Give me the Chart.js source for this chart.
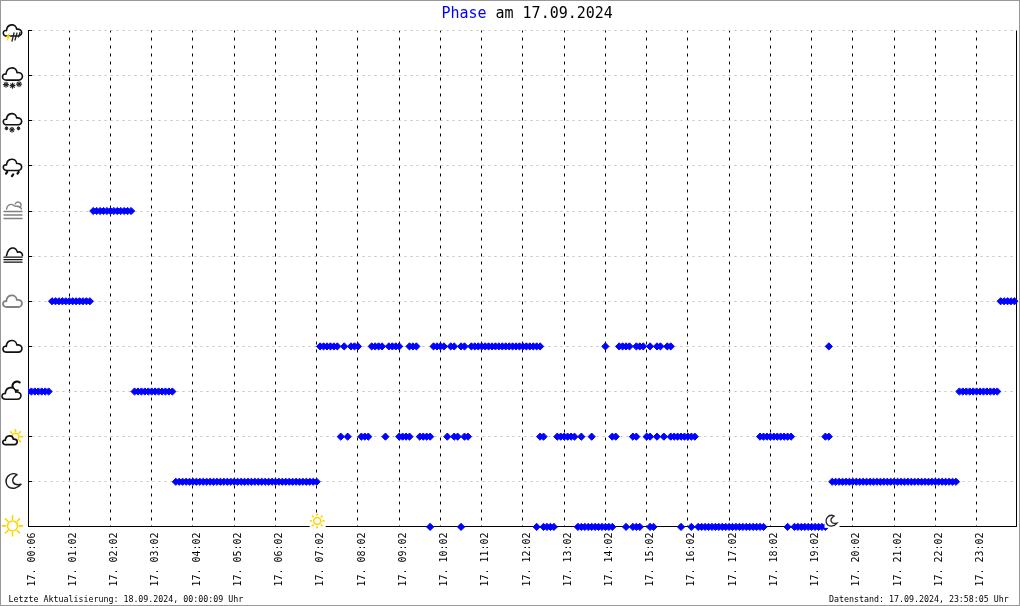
<!DOCTYPE html>
<html lang="de">
<head>
<meta charset="utf-8">
<title>Phase am 17.09.2024</title>
<script src="https://cdn.jsdelivr.net/npm/chart.js@4/dist/chart.umd.min.js"></script>
<style>
  html, body { margin: 0; padding: 0; background: #fff; }
  canvas { display: block; }
</style>
</head>
<body>
<canvas id="phaseChart" width="1020" height="606"></canvas>
<script>
// x = reading number of the day (one reading about every 5 minutes), y = phase row
const tickLabels = ['17. 00:06', '17. 01:02', '17. 02:02', '17. 03:02', '17. 04:02', '17. 05:02',
  '17. 06:02', '17. 07:02', '17. 08:02', '17. 09:02', '17. 10:02', '17. 11:02', '17. 12:02',
  '17. 13:02', '17. 14:02', '17. 15:02', '17. 16:02', '17. 17:02', '17. 18:02', '17. 19:02',
  '17. 20:02', '17. 21:02', '17. 22:02', '17. 23:02'];
const tickReadings = [0, 12, 24, 36, 48, 60, 72, 84, 96, 108, 120, 132, 144, 156, 168, 180,
  192, 204, 216, 228, 240, 252, 264, 276];

const phaseIcons = ['sun', 'moon', 'cloudSun', 'cloudMoon', 'cloud', 'greyCloud', 'fog', 'mist',
  'rain', 'sleet', 'snow', 'storm'];

const clearReadings = [117, 126, 148, 150, 151, 152, 153, 160, 161, 162, 163, 164, 165, 166, 167,
  168, 169, 170, 174, 176, 177, 178, 181, 182, 190, 193, 195, 196, 197, 198, 199, 200, 201, 202,
  203, 204, 205, 206, 207, 208, 209, 210, 211, 212, 213, 214, 221, 223, 224, 225, 226, 227, 228,
  229, 230, 231, 232];
const moonReadings = [43, 44, 45, 46, 47, 48, 49, 50, 51, 52, 53, 54, 55, 56, 57, 58, 59, 60, 61,
  62, 63, 64, 65, 66, 67, 68, 69, 70, 71, 72, 73, 74, 75, 76, 77, 78, 79, 80, 81, 82, 83, 84,
  234, 235, 236, 237, 238, 239, 240, 241, 242, 243, 244, 245, 246, 247, 248, 249, 250, 251, 252,
  253, 254, 255, 256, 257, 258, 259, 260, 261, 262, 263, 264, 265, 266, 267, 268, 269, 270];
const cloudSunReadings = [91, 93, 97, 98, 99, 104, 108, 109, 110, 111, 114, 115, 116, 117, 122,
  124, 125, 127, 128, 149, 150, 154, 155, 156, 157, 158, 159, 161, 164, 170, 171, 176, 177, 180,
  181, 183, 185, 187, 188, 189, 190, 191, 192, 193, 194, 213, 214, 215, 216, 217, 218, 219, 220,
  221, 222, 232, 233];
const cloudMoonReadings = [0, 1, 2, 3, 4, 5, 6, 31, 32, 33, 34, 35, 36, 37, 38, 39, 40, 41, 42,
  271, 272, 273, 274, 275, 276, 277, 278, 279, 280, 281, 282];
const cloudReadings = [85, 86, 87, 88, 89, 90, 92, 94, 95, 96, 100, 101, 102, 103, 105, 106, 107,
  108, 111, 112, 113, 118, 119, 120, 121, 123, 124, 126, 127, 129, 130, 131, 132, 133, 134, 135,
  136, 137, 138, 139, 140, 141, 142, 143, 144, 145, 146, 147, 148, 149, 168, 172, 173, 174, 175,
  177, 178, 179, 181, 183, 184, 186, 187, 233];
const greyCloudReadings = [7, 8, 9, 10, 11, 12, 13, 14, 15, 16, 17, 18, 283, 284, 285, 286, 287];
const mistReadings = [19, 20, 21, 22, 23, 24, 25, 26, 27, 28, 29, 30];

const phaseSeries = [
  [0, clearReadings], [1, moonReadings], [2, cloudSunReadings], [3, cloudMoonReadings],
  [4, cloudReadings], [5, greyCloudReadings], [7, mistReadings],
];
const sunriseReading = 84;
const sunsetReading = 233.5;

const BLUE = '#0000ff';
const YELLOW = '#ffd400';
const GREY = '#808080';

function cloudPath(c, x, y, k) {
  c.beginPath();
  c.moveTo(x - 6 * k, y + 5.5 * k);
  c.bezierCurveTo(x - 11.5 * k, y + 5.5 * k, x - 11 * k, y - 1.5 * k, x - 6.5 * k, y - 0.5 * k);
  c.bezierCurveTo(x - 6 * k, y - 8.5 * k, x + 4 * k, y - 8.5 * k, x + 4.5 * k, y - 2 * k);
  c.bezierCurveTo(x + 11.5 * k, y - 3 * k, x + 11.5 * k, y + 5.5 * k, x + 6 * k, y + 5.5 * k);
  c.closePath();
}

function sunIcon(c, x, y, r, rays) {
  c.strokeStyle = YELLOW;
  c.lineWidth = 1.5;
  c.beginPath();
  c.arc(x, y, r, 0, Math.PI * 2);
  c.stroke();
  c.lineWidth = 1.6;
  for (let a = 0; a < 8; a++) {
    const dx = Math.cos(a * Math.PI / 4), dy = Math.sin(a * Math.PI / 4);
    c.beginPath();
    c.moveTo(x + dx * (r + 1.6), y + dy * (r + 1.6));
    c.lineTo(x + dx * rays, y + dy * rays);
    c.stroke();
  }
}

function moonIcon(c, x, y, r, width) {
  c.strokeStyle = '#222';
  c.lineWidth = width;
  c.beginPath();
  c.arc(x, y, r, 0.72 * Math.PI, 1.72 * Math.PI - 0.2);
  c.bezierCurveTo(x - r * 0.55, y - r * 0.2, x - r * 0.1, y + r * 0.65, x + r, y + r * 0.4);
  c.bezierCurveTo(x + r * 0.5, y + r * 1.0, x - r * 0.2, y + r * 1.05, x - r * 0.62, y + r * 0.78);
  c.stroke();
}

function hLines(c, x0, x1, ys, color, width) {
  c.strokeStyle = color;
  c.lineWidth = width;
  ys.forEach(v => {
    c.beginPath();
    c.moveTo(x0, v);
    c.lineTo(x1, v);
    c.stroke();
  });
}

function star(c, x, y, r) {
  c.strokeStyle = '#222';
  c.lineWidth = 1.1;
  for (let a = 0; a < 4; a++) {
    const dx = Math.cos(a * Math.PI / 4) * r, dy = Math.sin(a * Math.PI / 4) * r;
    c.beginPath();
    c.moveTo(x - dx, y - dy);
    c.lineTo(x + dx, y + dy);
    c.stroke();
  }
}

function drawIcon(c, name, x, y) {
  c.save();
  c.lineJoin = 'round';
  c.lineCap = 'round';
  c.strokeStyle = '#111';
  c.lineWidth = 1.6;
  switch (name) {
    case 'sun':
      sunIcon(c, x, y - 1, 5, 10);
      break;
    case 'moon':
      moonIcon(c, x + 1, y - 0.5, 7.5, 1.5);
      break;
    case 'cloudSun':
      sunIcon(c, x + 3.5, y, 3.5, 7);
      c.fillStyle = '#fff';
      cloudPath(c, x - 2, y + 4, 0.72);
      c.fill();
      c.strokeStyle = '#111';
      c.lineWidth = 1.7;
      c.stroke();
      break;
    case 'cloudMoon':
      c.lineWidth = 2.2;
      c.beginPath();
      c.arc(x + 4.5, y - 5.5, 4.5, 0.45 * Math.PI, 1.7 * Math.PI);
      c.stroke();
      c.lineWidth = 1.6;
      c.fillStyle = '#fff';
      cloudPath(c, x - 1, y + 2.5, 0.95);
      c.fill();
      c.stroke();
      break;
    case 'cloud':
      cloudPath(c, x, y + 0.5, 0.95);
      c.stroke();
      break;
    case 'greyCloud':
      c.strokeStyle = GREY;
      c.lineWidth = 1.8;
      cloudPath(c, x, y + 0.5, 0.95);
      c.stroke();
      break;
    case 'fog':
      c.beginPath();
      c.moveTo(x - 6, y - 0.5);
      c.bezierCurveTo(x - 4, y - 10, x + 3, y - 10, x + 5, y - 4);
      c.bezierCurveTo(x + 8, y - 5, x + 10, y - 3, x + 10, y - 0.5);
      c.stroke();
      hLines(c, x - 8.5, x + 9.5, [y + 1, y + 3.5, y + 6], '#111', 1.4);
      break;
    case 'mist':
      c.strokeStyle = GREY;
      c.lineWidth = 1.3;
      c.beginPath();
      c.moveTo(x - 6, y - 2);
      c.bezierCurveTo(x - 5, y - 7, x - 1, y - 8, x + 2, y - 5);
      c.bezierCurveTo(x + 4, y - 5, x + 8, y - 5, x + 9, y - 2);
      c.stroke();
      c.beginPath();
      c.arc(x + 5.5, y - 6, 3, 1.1 * Math.PI, 0.3 * Math.PI);
      c.stroke();
      hLines(c, x - 8.5, x + 9.5, [y + 0.5, y + 4, y + 7.5], GREY, 1.4);
      break;
    case 'rain':
      cloudPath(c, x, y - 0.5, 0.92);
      c.stroke();
      c.strokeStyle = '#111';
      c.lineWidth = 2.2;
      [[-6, 7], [0, 9.5], [5.5, 7]].forEach(d => {
        c.beginPath();
        c.moveTo(x + d[0] + 0.7, y + d[1] - 1);
        c.lineTo(x + d[0] - 0.5, y + d[1] + 0.8);
        c.stroke();
      });
      break;
    case 'sleet':
      cloudPath(c, x, y - 1, 0.92);
      c.stroke();
      star(c, x - 6, y + 7.5, 1.4);
      star(c, x - 0.5, y + 9, 2.4);
      star(c, x + 6, y + 7.5, 1.4);
      break;
    case 'snow':
      cloudPath(c, x, y - 1, 1);
      c.stroke();
      star(c, x - 6.5, y + 9, 2.5);
      star(c, x, y + 10, 2.5);
      star(c, x + 6.5, y + 8.5, 2.5);
      break;
    case 'storm':
      cloudPath(c, x, y + 0.5, 0.92);
      c.stroke();
      c.fillStyle = YELLOW;
      c.beginPath();
      c.moveTo(x - 2.5, y + 2);
      c.lineTo(x - 7, y + 7);
      c.lineTo(x - 4.8, y + 7);
      c.lineTo(x - 6.5, y + 11.5);
      c.lineTo(x - 1.8, y + 5.2);
      c.lineTo(x - 4, y + 5.2);
      c.closePath();
      c.fill();
      c.strokeStyle = '#222';
      c.lineWidth = 1.3;
      [[1.5, 2.5, -0.5, 10.5], [4.5, 2.5, 2.5, 9.5], [7.5, 2, 6, 6.5]].forEach(l => {
        c.beginPath();
        c.moveTo(x + l[0], y + l[1]);
        c.lineTo(x + l[2], y + l[3]);
        c.stroke();
      });
      break;
  }
  c.restore();
}

const framePlugin = {
  id: 'frame',
  beforeDatasetsDraw(chart) {
    const c = chart.ctx, a = chart.chartArea, yScale = chart.scales.y;
    c.save();
    c.strokeStyle = '#000';
    c.lineWidth = 1;
    // right axis line and the small inward ticks of the phase axis
    c.beginPath();
    c.moveTo(a.right + 1.5, a.top);
    c.lineTo(a.right + 1.5, a.bottom);
    phaseIcons.forEach((name, i) => {
      const y = Math.round(yScale.getPixelForValue(i) - 0.5) + 0.5;
      c.moveTo(a.left, y);
      c.lineTo(a.left + 4, y);
    });
    c.stroke();
    c.restore();
  },
  afterDatasetsDraw(chart) {
    const c = chart.ctx, a = chart.chartArea, x = chart.scales.x, y = chart.scales.y;
    c.save();
    phaseIcons.forEach((name, i) => drawIcon(c, name, name === 'cloudSun' ? 12 : 12.5, y.getPixelForValue(i)));

    // sunrise / sunset markers have a white box behind them
    const riseX = x.getPixelForValue(sunriseReading);
    const setX = x.getPixelForValue(sunsetReading);
    c.fillStyle = '#fff';
    c.fillRect(riseX - 7, a.bottom - 13, 16, 14);
    c.fillRect(setX - 6, a.bottom - 13, 15, 14);
    sunIcon(c, riseX + 0.5, a.bottom - 6, 3.5, 7.5);
    moonIcon(c, setX + 1, a.bottom - 6, 5.5, 1.3);

    c.textBaseline = 'alphabetic';
    c.font = '15px "DejaVu Sans Mono"';
    c.fillStyle = BLUE;
    c.fillText('Phase', 441.5, 18);
    c.fillStyle = '#000';
    c.fillText('am 17.09.2024', 495.5, 18);
    c.font = '8.3px "DejaVu Sans Mono"';
    c.fillText('Letzte Aktualisierung: 18.09.2024, 00:00:09 Uhr', 8.5, 601.5);
    c.fillText('Datenstand: 17.09.2024, 23:58:05 Uhr', 829, 601.5);

    c.strokeStyle = '#999';
    c.lineWidth = 1;
    c.strokeRect(0.5, 0.5, chart.width - 1, chart.height - 1);
    c.restore();
  },
};

new Chart(document.getElementById('phaseChart'), {
  type: 'scatter',
  data: {
    datasets: phaseSeries.map(s => ({
      label: phaseIcons[s[0]],
      data: s[1].map(reading => ({ x: reading, y: s[0] })),
      backgroundColor: BLUE,
      borderColor: BLUE,
      borderWidth: 1,
      pointStyle: 'rectRot',
      pointRadius: 3.6,
      clip: { left: 0, top: false, right: false, bottom: false },
    })),
  },
  options: {
    responsive: false,
    animation: false,
    events: [],
    layout: { padding: { top: 30.5, right: 3, left: 0, bottom: 0 } },
    plugins: { legend: { display: false }, title: { display: false }, tooltip: { enabled: false } },
    scales: {
      x: {
        type: 'linear',
        min: 0,
        max: 287.17,
        afterFit: scale => { scale.height = 79.1; },
        afterBuildTicks: scale => { scale.ticks = tickReadings.map(value => ({ value })); },
        grid: { color: '#000', drawTicks: false },
        border: { color: '#000', dash: [3, 5], dashOffset: 1 },
        ticks: {
          autoSkip: false,
          minRotation: 90,
          maxRotation: 90,
          padding: 5.5,
          labelOffset: 4,
          color: '#000',
          font: { family: '"DejaVu Sans Mono"', size: 10 },
          callback: value => tickLabels[tickReadings.indexOf(value)],
        },
      },
      y: {
        type: 'linear',
        min: 0,
        max: 11,
        afterFit: scale => { scale.width = 28; },
        grid: { color: '#c0c0c0', drawTicks: false },
        border: { color: '#000', dash: [2, 4], dashOffset: 2.5 },
        ticks: { display: false, stepSize: 1 },
      },
    },
  },
  plugins: [framePlugin],
});
</script>
</body>
</html>
